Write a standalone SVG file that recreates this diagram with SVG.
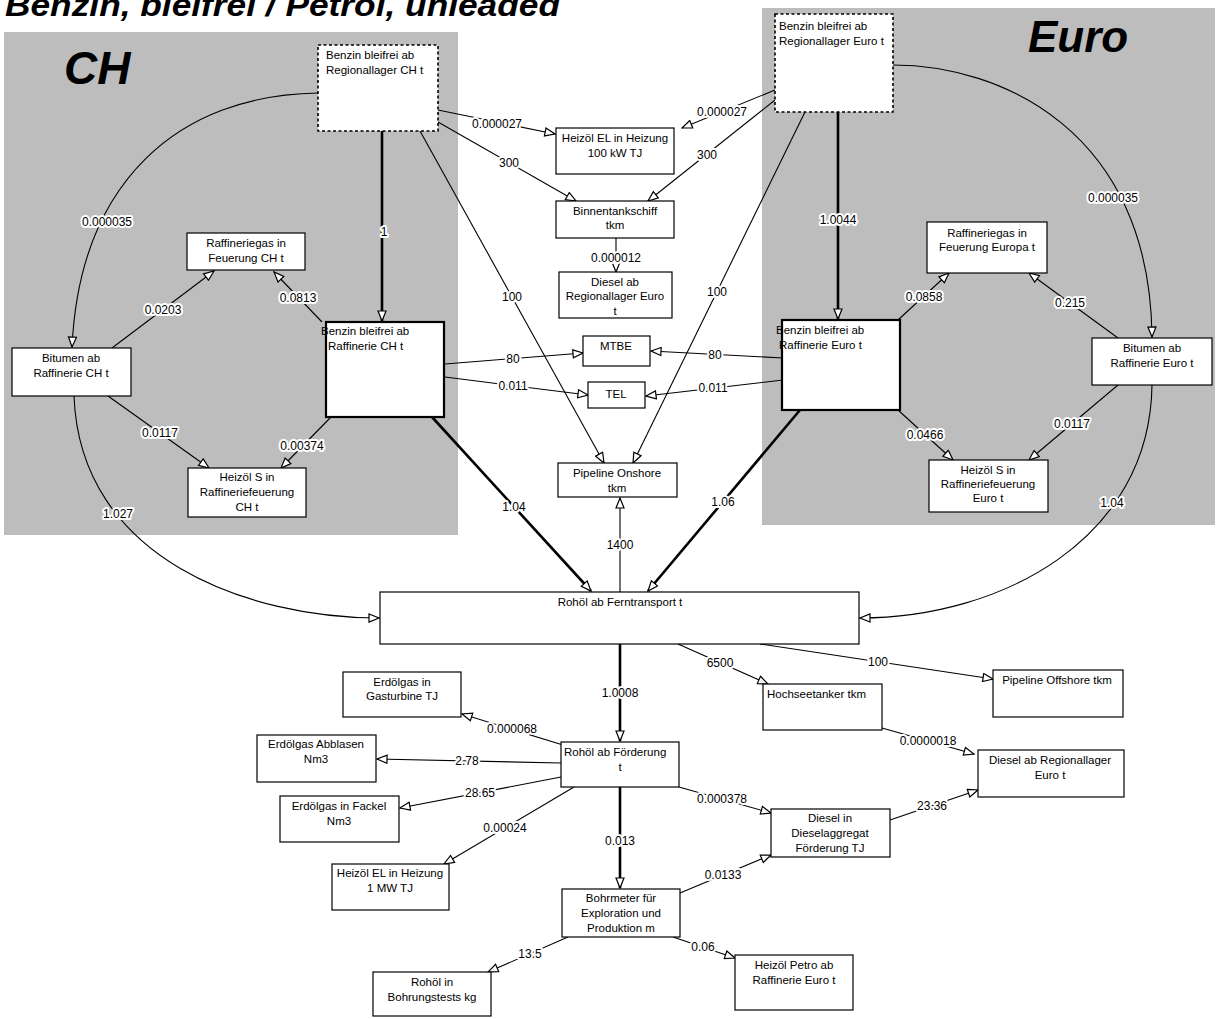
<svg xmlns="http://www.w3.org/2000/svg" width="1219" height="1019" viewBox="0 0 1219 1019">
<style>
.bg{fill:#bdbdbd}
.n rect{fill:#fff;stroke:#000;stroke-width:1.2}
.n.reg rect{stroke-dasharray:3,2.5;stroke-width:1.6}
.n.thick rect{stroke-width:2.2}
.n text{font-family:"Liberation Sans",Arial,sans-serif;font-size:11.5px;fill:#000;text-anchor:middle}
.n text.l{text-anchor:start}
.c path{fill:none;stroke:#000;stroke-width:1.1;marker-end:url(#ah)}
.c path.h{stroke-width:2.6}
.c text{font-family:"Liberation Sans",Arial,sans-serif;font-size:12px;fill:#000;text-anchor:middle;dominant-baseline:central;paint-order:stroke;stroke:#fff;stroke-width:4px;stroke-linejoin:round}
.big{font-family:"Liberation Sans",Arial,sans-serif;font-weight:bold;font-style:italic;fill:#000}
</style>
<defs>
<marker id="ah" markerWidth="12" markerHeight="10" refX="11" refY="5" orient="auto" markerUnits="userSpaceOnUse" viewBox="0 0 12 10"><path d="M1,1 L11,5 L1,9 Z" fill="#fff" stroke="#000" stroke-width="1.2"/></marker>
</defs>
<rect width="1219" height="1019" fill="#fff"/>
<rect class="bg" x="4" y="32" width="454" height="503"/>
<rect class="bg" x="762" y="8" width="453" height="517"/>
<text class="big" x="5" y="16" font-size="32" textLength="555" lengthAdjust="spacingAndGlyphs">Benzin, bleifrei / Petrol, unleaded</text>
<text class="big" x="64" y="84" font-size="46">CH</text>
<text class="big" x="1028" y="52" font-size="44">Euro</text>

<g id="connectors" class="c">
<path d="M438,110 L555,134"/><text x="497" y="124">0.000027</text>
<path d="M438,122 L576,201"/><text x="509" y="163">300</text>
<path d="M420,131 L604,463"/><text x="512" y="297">100</text>
<path class="h" d="M382,131 L382,321"/><text x="384" y="232">1</text>
<path d="M318,93 C180,95 80,180 72,347"/><text x="107" y="222">0.000035</text>
<path d="M322,322 L274,272"/><text x="298" y="298">0.0813</text>
<path d="M331,417 L281,468"/><text x="302" y="446">0.00374</text>
<path d="M445,364 L583,353"/><text x="513" y="359">80</text>
<path d="M445,377 L588,395"/><text x="513" y="386">0.011</text>
<path class="h" d="M432,417 L591,591"/><text x="514" y="507">1.04</text>
<path d="M112,348 L214,271"/><text x="163" y="310">0.0203</text>
<path d="M108,396 L209,468"/><text x="160" y="433">0.0117</text>
<path d="M74,396 C80,560 250,618 379,618"/><text x="118" y="514">1.027</text>
<path d="M775,90 L682,128"/><text x="722" y="112">0.000027</text>
<path d="M775,100 L648,201"/><text x="707" y="155">300</text>
<path d="M805,112 L633,463"/><text x="717" y="292">100</text>
<path class="h" d="M838,112 L838,319"/><text x="838" y="220">1.0044</text>
<path d="M893,65 C1000,65 1150,130 1152,337"/><text x="1113" y="198">0.000035</text>
<path d="M898,320 L949,273"/><text x="924" y="297">0.0858</text>
<path d="M898,410 L953,460"/><text x="925" y="435">0.0466</text>
<path d="M783,358 L651,351"/><text x="715" y="355">80</text>
<path d="M783,380 L646,396"/><text x="713" y="388">0.011</text>
<path class="h" d="M800,410 L648,591"/><text x="723" y="502">1.06</text>
<path d="M1118,338 L1029,273"/><text x="1070" y="303">0.215</text>
<path d="M1118,385 L1029,460"/><text x="1072" y="424">0.0117</text>
<path d="M1152,385 C1150,540 1000,618 860,618"/><text x="1112" y="503">1.04</text>
<path d="M616,238 L616,272"/><text x="616" y="258">0.000012</text>
<path d="M620,592 L620,498"/><text x="620" y="545">1400</text>
<path class="h" d="M620,644 L620,741"/><text x="620" y="693">1.0008</text>
<path d="M678,644 L768,684"/><text x="720" y="663">6500</text>
<path d="M760,644 L993,679"/><text x="878" y="662">100</text>
<path d="M882,728 L974,754"/><text x="928" y="741">0.0000018</text>
<path d="M563,745 L462,714"/><text x="512" y="729">0.000068</text>
<path d="M561,763 L377,759"/><text x="467" y="761">2.78</text>
<path d="M561,777 L400,808"/><text x="480" y="793">28.65</text>
<path d="M574,787 L444,864"/><text x="505" y="828">0.00024</text>
<path class="h" d="M620,787 L620,888"/><text x="620" y="841">0.013</text>
<path d="M679,787 L771,813"/><text x="722" y="799">0.000378</text>
<path d="M890,820 L978,790"/><text x="932" y="806">23.36</text>
<path d="M680,893 L771,855"/><text x="723" y="875">0.0133</text>
<path d="M568,937 L488,972"/><text x="530" y="954">13.5</text>
<path d="M673,937 L735,958"/><text x="703" y="947">0.06</text>
</g>

<g id="nodes">
<g id="reg_ch" class="n reg"><rect x="318" y="45" width="120" height="86"/><text class="l" x="326" y="59">Benzin bleifrei ab</text><text class="l" x="326" y="74">Regionallager CH t</text></g>
<g id="reg_euro" class="n reg"><rect x="775" y="14" width="118" height="98"/><text class="l" x="779" y="30">Benzin bleifrei  ab</text><text class="l" x="779" y="45">Regionallager Euro t</text></g>
<g id="heizoel_100kw" class="n"><rect x="556" y="128" width="118" height="46"/><text x="615" y="142">Heizöl EL in Heizung</text><text x="615" y="157">100 kW TJ</text></g>
<g id="binnentankschiff" class="n"><rect x="556" y="201" width="118" height="37"/><text x="615" y="215">Binnentankschiff</text><text x="615" y="229">tkm</text></g>
<g id="diesel_reg_top" class="n"><rect x="559" y="272" width="113" height="46"/><text x="615" y="286">Diesel ab</text><text x="615" y="300">Regionallager Euro</text><text x="615" y="315">t</text></g>
<g id="mtbe" class="n"><rect x="583" y="336" width="67" height="30"/><text x="616" y="350">MTBE</text></g>
<g id="tel" class="n"><rect x="588" y="382" width="57" height="26"/><text x="616" y="398">TEL</text></g>
<g id="pipeline_onshore" class="n"><rect x="558" y="463" width="119" height="34"/><text x="617" y="477">Pipeline Onshore</text><text x="617" y="492">tkm</text></g>
<g id="raffgas_ch" class="n"><rect x="187" y="233" width="118" height="37"/><text x="246" y="247">Raffineriegas in</text><text x="246" y="262">Feuerung CH t</text></g>
<g id="bitumen_ch" class="n"><rect x="12" y="348" width="119" height="48"/><text x="71" y="362">Bitumen ab</text><text x="71" y="377">Raffinerie CH  t</text></g>
<g id="benzin_raf_ch" class="n thick"><rect x="326" y="322" width="118" height="95"/><text class="l" x="321" y="335">Benzin bleifrei  ab</text><text class="l" x="328" y="350">Raffinerie CH  t</text></g>
<g id="heizs_ch" class="n"><rect x="188" y="468" width="118" height="49"/><text x="247" y="481">Heizöl S in</text><text x="247" y="496">Raffineriefeuerung</text><text x="247" y="511">CH  t</text></g>
<g id="benzin_raf_euro" class="n thick"><rect x="782" y="320" width="118" height="90"/><text class="l" x="776" y="334">Benzin bleifrei  ab</text><text class="l" x="779" y="349">Raffinerie Euro t</text></g>
<g id="raffgas_euro" class="n"><rect x="927" y="222" width="120" height="51"/><text x="987" y="237">Raffineriegas in</text><text x="987" y="251">Feuerung Europa t</text></g>
<g id="bitumen_euro" class="n"><rect x="1092" y="338" width="120" height="47"/><text x="1152" y="352">Bitumen ab</text><text x="1152" y="367">Raffinerie Euro t</text></g>
<g id="heizs_euro" class="n"><rect x="929" y="460" width="119" height="52"/><text x="988" y="474">Heizöl S in</text><text x="988" y="488">Raffineriefeuerung</text><text x="988" y="502">Euro t</text></g>
<g id="rohoel_fern" class="n"><rect x="380" y="592" width="479" height="52"/><text x="620" y="606">Rohöl ab Ferntransport t</text></g>
<g id="gasturbine" class="n"><rect x="343" y="672" width="118" height="45"/><text x="402" y="686">Erdölgas in</text><text x="402" y="700">Gasturbine TJ</text></g>
<g id="abblasen" class="n"><rect x="257" y="735" width="119" height="47"/><text x="316" y="748">Erdölgas Abblasen</text><text x="316" y="763">Nm3</text></g>
<g id="fackel" class="n"><rect x="280" y="796" width="119" height="46"/><text x="339" y="810">Erdölgas in Fackel</text><text x="339" y="825">Nm3</text></g>
<g id="rohoel_foerd" class="n"><rect x="561" y="742" width="118" height="45"/><text class="l" x="564" y="756">Rohöl ab Förderung</text><text x="620" y="771">t</text></g>
<g id="hochsee" class="n"><rect x="763" y="684" width="119" height="46"/><text class="l" x="767" y="698">Hochseetanker tkm</text></g>
<g id="pipeline_offshore" class="n"><rect x="993" y="670" width="130" height="47"/><text x="1057" y="684">Pipeline Offshore tkm</text></g>
<g id="diesel_reg_bottom" class="n"><rect x="978" y="750" width="146" height="47"/><text x="1050" y="764">Diesel ab Regionallager</text><text x="1050" y="779">Euro t</text></g>
<g id="dieselaggregat" class="n"><rect x="771" y="809" width="119" height="48"/><text x="830" y="822">Diesel in</text><text x="830" y="837">Dieselaggregat</text><text x="830" y="852">Förderung TJ</text></g>
<g id="heizoel_1mw" class="n"><rect x="332" y="864" width="117" height="46"/><text x="390" y="877">Heizöl EL in Heizung</text><text x="390" y="892">1 MW TJ</text></g>
<g id="bohrmeter" class="n"><rect x="562" y="889" width="118" height="48"/><text x="621" y="902">Bohrmeter für</text><text x="621" y="917">Exploration und</text><text x="621" y="932">Produktion m</text></g>
<g id="rohoel_bohr" class="n"><rect x="373" y="972" width="118" height="44"/><text x="432" y="986">Rohöl in</text><text x="432" y="1001">Bohrungstests kg</text></g>
<g id="heizoel_petro" class="n"><rect x="735" y="955" width="118" height="55"/><text x="794" y="969">Heizöl Petro ab</text><text x="794" y="984">Raffinerie Euro t</text></g>
</g>
</svg>
